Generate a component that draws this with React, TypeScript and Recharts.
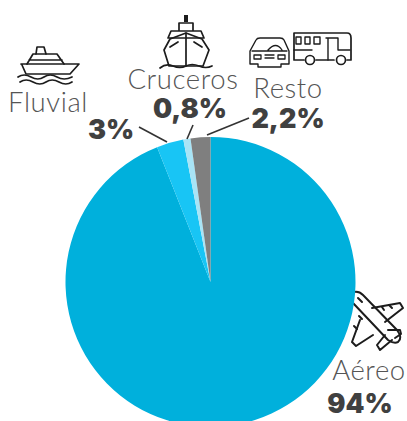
import React from "react";
import { PieChart, Pie, Cell } from "recharts";

const categories = ["Aéreo", "Fluvial", "Cruceros", "Resto"];
const shares = [94, 3, 0.8, 2.2];
const shareLabels = ["94%", "3%", "0,8%", "2,2%"];
const colors = ["#00B0DC", "#18C5F5", "#A8E4F6", "#7F7F7F"];

const data = categories.map((name, i) => ({ name, value: shares[i] }));

const nameFont = { fontFamily: "Lato, 'Noto Sans', sans-serif", fontWeight: 300, fontSize: 27.5, letterSpacing: 0.6, fill: "#555555" };
const valueFont = { fontFamily: "Inter, Lato, sans-serif", fontWeight: 900, fontSize: 27, fill: "#404040" };

const labelPlaces = [
  { nameX: 369, nameY: 380, valueX: 360, valueY: 413 },
  { nameX: 48, nameY: 112, valueX: 111, valueY: 139 },
  { nameX: 183, nameY: 89, valueX: 190, valueY: 118 },
  { nameX: 288, nameY: 97.5, valueX: 288, valueY: 128 },
];
const leaderLines = [
  null,
  [167, 142, 139, 127],
  [187, 139, 193, 125],
  [207, 135, 249, 118],
];

const ic = { fill: "none", stroke: "#1c1c1c", strokeWidth: 1.7, strokeLinejoin: "round" as const, strokeLinecap: "round" as const };

function Ferry() {
  return (
    <g {...ic}>
      <path d="M21 64H79L70 74H26L22 65" />
      <path d="M27 64L33 54H57L64 64M29 60H62" />
      <path d="M36 54L37 47H44L46 54" />
      <path d="M18 77Q24 73 31 77T44 77T57 77T72 77M20 82Q26 78 33 82T46 82T59 82T72 82" />
    </g>
  );
}
function Cruise() {
  return (
    <g {...ic}>
      <path d="M186 15V22" strokeWidth={4} strokeLinecap="butt" />
      <path d="M179 23H193V30M179 23V30M171 31H201L204 38H168Z" />
      <path d="M170 39L186 33L202 39L209 50L203 66H169L164 50Z" />
      <path d="M186 33V66M170 47L178 42M202 47L194 42" />
      <path d="M160 68Q166 63 173 66T186 66T199 66T212 66" />
    </g>
  );
}
function CarBus() {
  return (
    <g {...ic}>
      <path d="M250 51L256 40Q257 38 260 38H280Q283 38 284 40L289 51V64H281V67H258V64H250Z" strokeWidth={1.4} />
      <path d="M252 51H287M254 55H261V59H254ZM278 55H285V59H278ZM265 55H274M265 58H274M268 50Q276 41 282 50" strokeWidth={1.3} />
      <path d="M304 60H294V33H347Q351 33 351 38V60H347M334 60H316" />
      <path d="M294 50H312M296 37H301V44H296ZM305 37H310V44H305ZM314 37H320V44H314ZM328 38V60M338 38V50H350M326 38H338" strokeWidth={1.4} />
      <circle cx={310} cy={60} r={4.5} />
      <circle cx={341} cy={60} r={4.5} />
    </g>
  );
}
function Plane() {
  return (
    <g {...ic} strokeWidth={2}>
      <path d="M353 303Q350 294 354 292Q359 291 363 295L397 330Q403 338 398 342Q394 344 388 340Z" />
      <path d="M372 308L400 303L403 308L385 322" />
      <path d="M360 320L352 342L356 346L373 335" />
      <path d="M388 330H400L401 334L395 338M385 335L377 345L380 350L392 340" />
      <path d="M358 298L362 302M354 326L357 329M359 316L362 319M389 305L392 308M382 307L384 310" />
    </g>
  );
}

function SliceLabel(props: any) {
  const { index } = props;
  const p = labelPlaces[index];
  return (
    <g>
      <text x={p.nameX} y={p.nameY} textAnchor="middle" style={nameFont}>{categories[index]}</text>
      <text x={p.valueX} y={p.valueY} textAnchor="middle" style={valueFont}>{shareLabels[index]}</text>
    </g>
  );
}

function Leader(props: any) {
  const l = leaderLines[props.index];
  if (!l) return <g />;
  return <line x1={l[0]} y1={l[1]} x2={l[2]} y2={l[3]} stroke="#333333" strokeWidth={1.6} />;
}

export default function App() {
  return (
    <div style={{ position: "absolute", left: 0, top: 0, width: 407, height: 421, overflow: "hidden", background: "#fff" }}>
      <PieChart width={407} height={421} margin={{ top: 0, right: 0, bottom: 0, left: 0 }}>
        <Pie
          data={data}
          dataKey="value"
          nameKey="name"
          cx={210.5}
          cy={282}
          outerRadius={145}
          startAngle={90}
          endAngle={-270}
          stroke="none"
          isAnimationActive={false}
          label={SliceLabel}
          labelLine={Leader}
        >
          {data.map((d, i) => <Cell key={d.name} fill={colors[i]} />)}
        </Pie>
        <Ferry />
        <Cruise />
        <CarBus />
        <Plane />
      </PieChart>
    </div>
  );
}
